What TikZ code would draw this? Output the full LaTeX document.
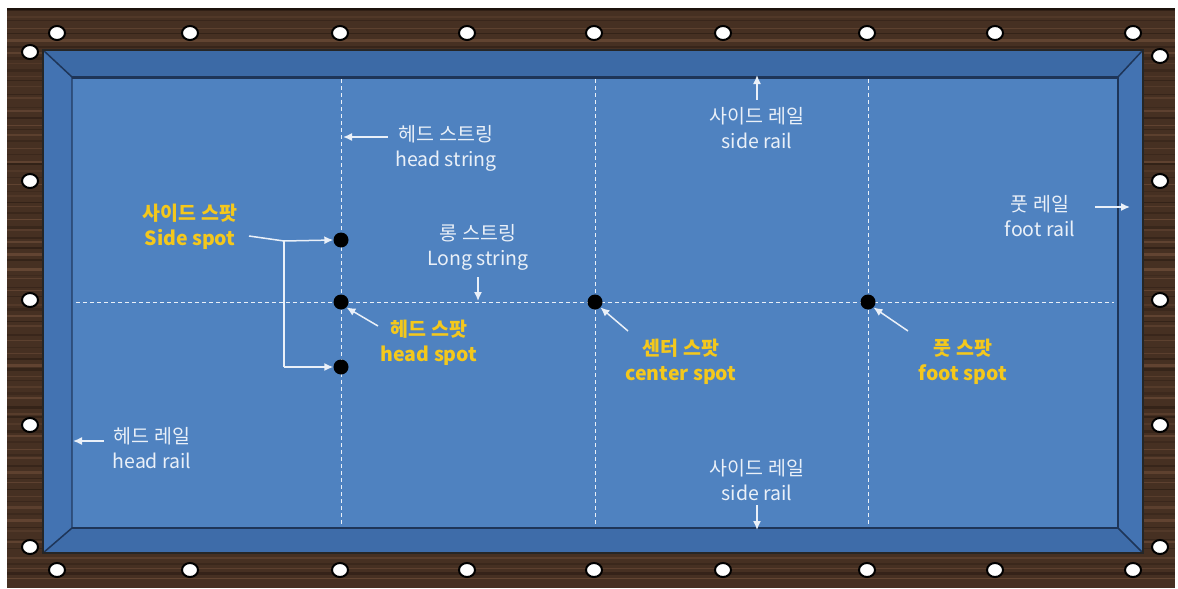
\documentclass[tikz,border=0pt]{standalone}
\usepackage{fontspec}
\setmainfont{Noto Sans CJK KR}
\usetikzlibrary{arrows.meta,shapes.geometric}
\definecolor{wood}{HTML}{463022}
\definecolor{woodlight}{HTML}{7A5640}
\definecolor{wooddark}{HTML}{22160F}
\definecolor{cloth}{HTML}{4F82C0}
\definecolor{railtop}{HTML}{3C6AA6}
\definecolor{railside}{HTML}{4373B2}
\definecolor{railbot}{HTML}{3E6CA9}
\definecolor{raildark}{HTML}{1E3558}
\definecolor{labelwhite}{HTML}{EAF0F8}
\definecolor{spotgold}{HTML}{F4C81C}
\tikzset{
  diamondpt/.style={ellipse, minimum width=16pt, minimum height=14pt, inner sep=0pt,
    draw=black, line width=2pt, fill=white},
  spotdot/.style={circle, fill=black, minimum size=15pt, inner sep=0pt},
  stringline/.style={draw=labelwhite, line width=1pt, dash pattern=on 4pt off 3pt},
  arr/.style={draw=labelwhite, line width=1.5pt, -{Latex[length=9pt,width=8pt]}},
  plainline/.style={draw=labelwhite, line width=1.5pt},
  wlabel/.style={text=labelwhite, align=center, font=\fontsize{19.5}{25}\selectfont, inner sep=0pt},
  ylabel/.style={text=spotgold, align=center, font=\fontsize{19.5}{25}\selectfont\bfseries, inner sep=0pt}
}
\begin{document}
\begin{tikzpicture}[x=1pt,y=-1pt]
\useasboundingbox (0,0) rectangle (1178,589);
\fill[white] (0,0) rectangle (1178,589);

% wooden frame with horizontal grain
\fill[wood] (7,8) rectangle (1175,588);
\begin{scope}
  \clip (7,8) rectangle (1175,588);
  \pgfmathsetseed{11}
  \foreach \i in {0,...,95} {
    \pgfmathsetmacro{\yy}{8+\i*6+rnd*4}
    \pgfmathsetmacro{\op}{0.2+0.4*rnd}
    \pgfmathsetmacro{\lw}{0.8+2.2*rnd}
    \ifodd\i
      \draw[woodlight, opacity=\op, line width=\lw pt] (7,\yy) -- (1175,\yy);
    \else
      \draw[wooddark, opacity=\op, line width=\lw pt] (7,\yy) -- (1175,\yy);
    \fi
  }
\end{scope}
\draw[black, opacity=0.6, line width=2pt] (7,9) -- (1175,9);

% cushion rails
\fill[railtop]  (43,50) -- (1143,50) -- (1118,77) -- (72,77) -- cycle;
\fill[railside] (43,50) -- (72,77) -- (72,528) -- (43,553) -- cycle;
\fill[railside] (1143,50) -- (1143,553) -- (1118,528) -- (1118,77) -- cycle;
\fill[railbot]  (43,553) -- (72,528) -- (1118,528) -- (1143,553) -- cycle;
\draw[raildark, line width=1.5pt] (43,50) -- (72,77) (1143,50) -- (1118,77)
  (43,553) -- (72,528) (1143,553) -- (1118,528);

% playing cloth
\fill[cloth] (72,77) rectangle (1118,528);
\draw[raildark, line width=3pt] (72,77) -- (1118,77);
\draw[raildark, line width=2pt] (1118,77) -- (1118,528) -- (72,528);
\draw[raildark, opacity=0.6, line width=1.2pt] (72,77) -- (72,528);
\draw[black!85, line width=2.2pt] (43,50) rectangle (1143,553);

% rail diamonds
\foreach \x [count=\k] in {57,190,340,467,594,723,867,995,1133} {
  \node[diamondpt] (dt\k) at (\x,33) {};
  \node[diamondpt] (db\k) at (\x,570) {};
}
\foreach \y [count=\k] in {52,181,300,425,547} {
  \node[diamondpt] (dl\k) at (30,\y) {};
}
\foreach \y [count=\k] in {56,181,300,425,547} {
  \node[diamondpt] (dr\k) at (1160,\y) {};
}

% strings
\coordinate (hsT) at (341,79);  \coordinate (hsB) at (341,526);
\coordinate (csT) at (595,79);  \coordinate (csB) at (595,526);
\coordinate (fsT) at (868,79);  \coordinate (fsB) at (868,526);
\coordinate (lsL) at (76,302);  \coordinate (lsR) at (1114,302);
\draw[stringline] (hsT) -- (hsB);
\draw[stringline] (csT) -- (csB);
\draw[stringline] (fsT) -- (fsB);
\draw[stringline] (lsL) -- (lsR);

% spots
\node[spotdot] (sideA) at (341,240) {};
\node[spotdot] (headspot) at (341,302) {};
\node[spotdot] (sideB) at (341,367) {};
\node[spotdot] (centerspot) at (595,302) {};
\node[spotdot] (footspot) at (868,302) {};

% white labels
\node[wlabel] (lblHS) at (446,148) {헤드 스트링\\head string};
\coordinate (hsArrS) at (388,137); \coordinate (hsArrE) at (343,137);
\draw[arr] (hsArrS) -- (hsArrE);

\node[wlabel] (lblSRt) at (757,128) {사이드 레일\\side rail};
\coordinate (srtS) at (757,100); \coordinate (srtE) at (757,75);
\draw[arr] (srtS) -- (srtE);

\node[wlabel] (lblFR) at (1040,216) {풋 레일\\foot rail};
\coordinate (frS) at (1095,207); \coordinate (frE) at (1130,207);
\draw[arr] (frS) -- (frE);

\node[wlabel] (lblLS) at (478,247) {롱 스트링\\Long string};
\coordinate (lsS) at (478,277); \coordinate (lsE) at (478,301);
\draw[arr] (lsS) -- (lsE);

\node[wlabel] (lblHR) at (152,448) {헤드 레일\\head rail};
\coordinate (hrS) at (104,441); \coordinate (hrE) at (73,441);
\draw[arr] (hrS) -- (hrE);

\node[wlabel] (lblSRb) at (757,480) {사이드 레일\\side rail};
\coordinate (srbS) at (757,505); \coordinate (srbE) at (757,530);
\draw[arr] (srbS) -- (srbE);

% gold spot labels
\node[ylabel] (lblSide) at (190,227) {사이드 스팟\\Side spot};
\coordinate (sideFrom) at (249,236);
\coordinate (sideJ) at (284,241);
\coordinate (sideJ2) at (284,367);
\draw[plainline] (sideFrom) -- (sideJ);
\draw[arr] (sideJ) -- (sideA.west);
\draw[plainline] (sideJ) -- (sideJ2);
\draw[arr] (sideJ2) -- (sideB.west);

\node[ylabel] (lblHead) at (429,343) {헤드 스팟\\head spot};
\coordinate (headFrom) at (378,326);
\draw[arr] (headFrom) -- (headspot.south east);

\node[ylabel] (lblCenter) at (681,362) {센터 스팟\\center spot};
\coordinate (centerFrom) at (628,331);
\draw[arr] (centerFrom) -- (centerspot.south east);

\node[ylabel] (lblFoot) at (963,362) {풋 스팟\\foot spot};
\coordinate (footFrom) at (908,331);
\draw[arr] (footFrom) -- (footspot.south east);
\end{tikzpicture}
\end{document}
